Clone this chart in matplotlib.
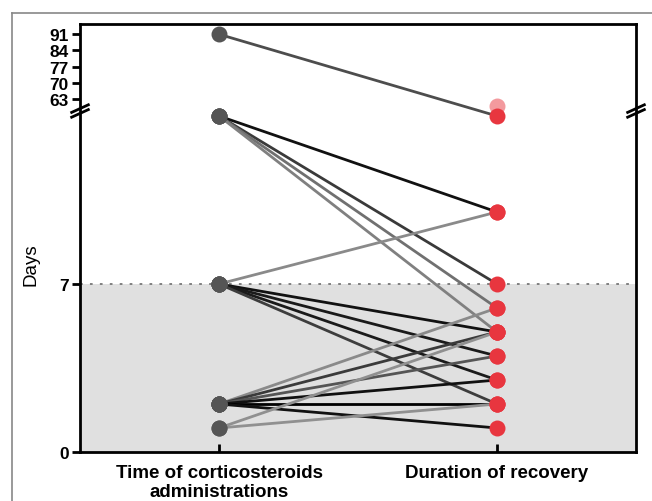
import numpy as np
import matplotlib
matplotlib.use("Agg")
import matplotlib.pyplot as plt
from matplotlib.lines import Line2D

plt.rcParams['font.family'] = ['Liberation Sans', 'DejaVu Sans']

# ---- data ----
categories = ["Time of corticosteroids\nadministrations", "Duration of recovery"]
time_cortico = [91, 14, 14, 14, 14, 7, 7, 7, 7, 7, 2, 2, 2, 2, 2, 2, 1, 1]
recovery     = [14, 10, 7, 6, 5, 10, 5, 4, 3, 2, 6, 5, 4, 3, 2, 1, 5, 2]
extra_recovery = [60]
yticks = [0, 7, 63, 70, 77, 84, 91]

line_colors = ['#4d4d4d', '#111111', '#3a3a3a', '#707070', '#808080',
               '#8a8a8a', '#111111', '#1a1a1a', '#1a1a1a', '#3d3d3d',
               '#8a8a8a', '#3a3a3a', '#555555', '#111111', '#000000',
               '#111111', '#909090', '#909090']

# ---- broken-axis scale (piecewise linear) ----
ys = np.array([0.0, 14.0, 60.0, 96.0])
ts = np.array([0.0, 336.0, 346.0, 346.0 + 36 * 2.314])

def fwd(y):
    return np.interp(y, ys, ts)

def inv(t):
    return np.interp(t, ts, ys)

fig = plt.figure(figsize=(6.52, 5.02), dpi=100)
ax = fig.add_axes([80/652, 1 - 453/502, (636-80)/652, (453-25)/502])
ax.set_yscale('function', functions=(fwd, inv))
ytop = inv(428.0)
ax.set_ylim(0, ytop)
ax.set_xlim(-0.5, 1.5)

# shaded region and dotted line
ax.axhspan(0, 7, color='#e0e0e0', zorder=0, lw=0)
ax.axhline(7, color='#777777', ls=(0, (1.5, 4)), lw=1.3, zorder=1)

for a, b, c in zip(time_cortico, recovery, line_colors):
    ax.plot([0, 1], [a, b], color=c, lw=2.0, zorder=2, solid_capstyle='butt')

ax.plot(np.zeros(len(time_cortico)), time_cortico, 'o', color='#555555',
        ms=11.5, mec='none', zorder=4)
ax.plot(np.ones(len(recovery)), recovery, 'o', color='#e8363f',
        ms=11.5, mec='none', zorder=4)
ax.plot(np.ones(len(extra_recovery)), extra_recovery, 'o', color='#e8363f',
        alpha=0.5, ms=11.5, mec='none', zorder=3)

# axes styling
for s in ax.spines.values():
    s.set_linewidth(2.0)
    s.set_color('black')
ax.set_yticks(yticks)
ax.set_yticklabels([str(v) for v in yticks], fontsize=12.5, fontweight='bold')
ax.yaxis.set_minor_locator(matplotlib.ticker.NullLocator())
ax.tick_params(axis='y', direction='out', length=6, width=2, pad=2)
ax.set_xticks([0, 1])
ax.set_xticklabels(categories, fontsize=13.5, fontweight='bold', linespacing=1.1)
ax.tick_params(axis='x', direction='in', length=6, width=2, pad=9)
ax.set_ylabel('Days', fontsize=13.5)
ax.yaxis.set_label_coords(-0.072, (453 - 265) / 428)

# break marks
tr = ax.get_yaxis_transform()
for xa in (0.0, 1.0):
    for dy in (-2.4, 2.4):
        t0 = 341.0 + dy
        ax.add_line(Line2D([xa - 0.015, xa + 0.015],
                           [inv(t0 - 3.8), inv(t0 + 3.8)],
                           transform=tr, color='black', lw=2.0,
                           clip_on=False, zorder=6))

# outer frame (left and top edges)
fig.add_artist(Line2D([12/652, 12/652], [0, 1 - 14/502], color='#888888',
                      lw=1.2, transform=fig.transFigure))
fig.add_artist(Line2D([12/652, 1], [1 - 14/502, 1 - 14/502], color='#888888',
                      lw=1.2, transform=fig.transFigure))

fig.savefig('out.png', dpi=100)
